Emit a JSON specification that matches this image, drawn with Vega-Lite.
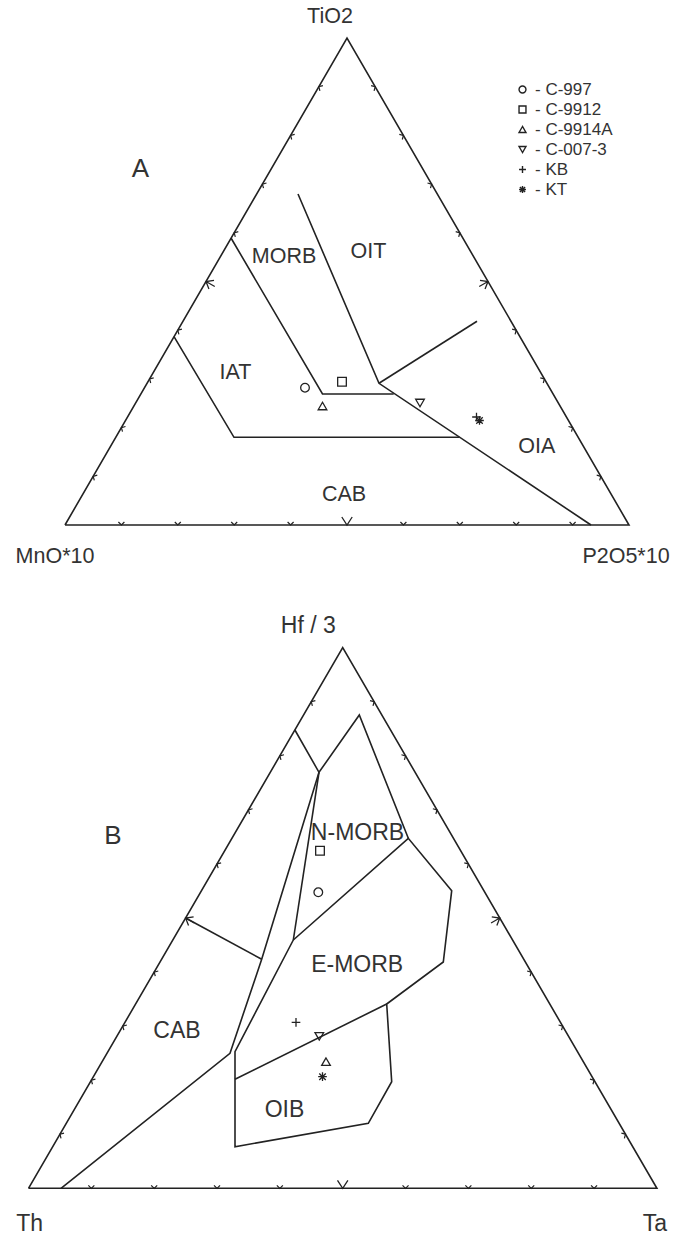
{
  "$schema": "https://vega.github.io/schema/vega-lite/v6.json",
  "width": 684,
  "height": 1237,
  "autosize": {"type": "fit", "contains": "padding"},
  "padding": 0,
  "background": "white",
  "config": {"view": {"stroke": null}, "text": {"font": "Liberation Sans"}},
  "datasets": {
    "lines": [
      {"id": "A-outline", "ord": 1, "x": 65, "y": 525},
      {"id": "A-outline", "ord": 2, "x": 347, "y": 38},
      {"id": "A-outline", "ord": 3, "x": 629, "y": 525},
      {"id": "A-outline", "ord": 4, "x": 65, "y": 525},
      {"id": "A-morb", "ord": 1, "x": 231, "y": 238},
      {"id": "A-morb", "ord": 2, "x": 322.5, "y": 394},
      {"id": "A-morb", "ord": 3, "x": 393.7, "y": 394},
      {"id": "A-oit", "ord": 1, "x": 298, "y": 194},
      {"id": "A-oit", "ord": 2, "x": 379, "y": 383.3},
      {"id": "A-oit", "ord": 3, "x": 591, "y": 525},
      {"id": "A-oia", "ord": 1, "x": 379, "y": 383.3},
      {"id": "A-oia", "ord": 2, "x": 477, "y": 321.3},
      {"id": "A-iat", "ord": 1, "x": 174, "y": 336.7},
      {"id": "A-iat", "ord": 2, "x": 234, "y": 437.3},
      {"id": "A-iat", "ord": 3, "x": 459.5, "y": 437.3},
      {"id": "B-outline", "ord": 1, "x": 28.5, "y": 1188.3},
      {"id": "B-outline", "ord": 2, "x": 342.7, "y": 647.7},
      {"id": "B-outline", "ord": 3, "x": 656.9, "y": 1188.3},
      {"id": "B-outline", "ord": 4, "x": 28.5, "y": 1188.3},
      {"id": "B-n1", "ord": 1, "x": 294.9, "y": 730},
      {"id": "B-n1", "ord": 2, "x": 319, "y": 772.3},
      {"id": "B-n1", "ord": 3, "x": 359.3, "y": 715},
      {"id": "B-n1", "ord": 4, "x": 408.3, "y": 838.3},
      {"id": "B-n2", "ord": 1, "x": 319, "y": 772.3},
      {"id": "B-n2", "ord": 2, "x": 293.3, "y": 940},
      {"id": "B-poly", "ord": 1, "x": 293.3, "y": 940},
      {"id": "B-poly", "ord": 2, "x": 408.3, "y": 838.3},
      {"id": "B-poly", "ord": 3, "x": 451.7, "y": 890.7},
      {"id": "B-poly", "ord": 4, "x": 443.3, "y": 962},
      {"id": "B-poly", "ord": 5, "x": 386.7, "y": 1004},
      {"id": "B-poly", "ord": 6, "x": 391.7, "y": 1081.7},
      {"id": "B-poly", "ord": 7, "x": 368.3, "y": 1123.3},
      {"id": "B-poly", "ord": 8, "x": 235, "y": 1146.7},
      {"id": "B-poly", "ord": 9, "x": 235, "y": 1051.7},
      {"id": "B-poly", "ord": 10, "x": 293.3, "y": 940},
      {"id": "B-eo", "ord": 1, "x": 235, "y": 1079.3},
      {"id": "B-eo", "ord": 2, "x": 386.7, "y": 1004},
      {"id": "B-cab", "ord": 1, "x": 319, "y": 772.3},
      {"id": "B-cab", "ord": 2, "x": 261.7, "y": 959.3},
      {"id": "B-cab", "ord": 3, "x": 230, "y": 1053.3},
      {"id": "B-cab", "ord": 4, "x": 61, "y": 1188.3},
      {"id": "B-arrow", "ord": 1, "x": 185.6, "y": 918},
      {"id": "B-arrow", "ord": 2, "x": 261.7, "y": 959.3}
    ],
    "ticks": [
      {"edge": "L", "kind": "minor", "x": 318.8, "y": 86.7},
      {"edge": "L", "kind": "minor", "x": 290.6, "y": 135.4},
      {"edge": "L", "kind": "minor", "x": 262.4, "y": 184.1},
      {"edge": "L", "kind": "minor", "x": 234.2, "y": 232.8},
      {"edge": "L", "kind": "major", "x": 206.0, "y": 281.5},
      {"edge": "L", "kind": "minor", "x": 177.8, "y": 330.2},
      {"edge": "L", "kind": "minor", "x": 149.6, "y": 378.9},
      {"edge": "L", "kind": "minor", "x": 121.4, "y": 427.6},
      {"edge": "L", "kind": "minor", "x": 93.2, "y": 476.3},
      {"edge": "R", "kind": "minor", "x": 375.2, "y": 86.7},
      {"edge": "R", "kind": "minor", "x": 403.4, "y": 135.4},
      {"edge": "R", "kind": "minor", "x": 431.6, "y": 184.1},
      {"edge": "R", "kind": "minor", "x": 459.8, "y": 232.8},
      {"edge": "R", "kind": "major", "x": 488.0, "y": 281.5},
      {"edge": "R", "kind": "minor", "x": 516.2, "y": 330.2},
      {"edge": "R", "kind": "minor", "x": 544.4, "y": 378.9},
      {"edge": "R", "kind": "minor", "x": 572.6, "y": 427.6},
      {"edge": "R", "kind": "minor", "x": 600.8, "y": 476.3},
      {"edge": "Bt", "kind": "minor", "x": 121.4, "y": 525},
      {"edge": "Bt", "kind": "minor", "x": 177.8, "y": 525},
      {"edge": "Bt", "kind": "minor", "x": 234.2, "y": 525},
      {"edge": "Bt", "kind": "minor", "x": 290.6, "y": 525},
      {"edge": "Bt", "kind": "major", "x": 347.0, "y": 525},
      {"edge": "Bt", "kind": "minor", "x": 403.4, "y": 525},
      {"edge": "Bt", "kind": "minor", "x": 459.8, "y": 525},
      {"edge": "Bt", "kind": "minor", "x": 516.2, "y": 525},
      {"edge": "Bt", "kind": "minor", "x": 572.6, "y": 525},
      {"edge": "L", "kind": "minor", "x": 311.28, "y": 701.76},
      {"edge": "L", "kind": "minor", "x": 279.86, "y": 755.82},
      {"edge": "L", "kind": "minor", "x": 248.44, "y": 809.88},
      {"edge": "L", "kind": "minor", "x": 217.02, "y": 863.94},
      {"edge": "L", "kind": "major", "x": 185.6, "y": 918.0},
      {"edge": "L", "kind": "minor", "x": 154.18, "y": 972.06},
      {"edge": "L", "kind": "minor", "x": 122.76, "y": 1026.12},
      {"edge": "L", "kind": "minor", "x": 91.34, "y": 1080.18},
      {"edge": "L", "kind": "minor", "x": 59.92, "y": 1134.24},
      {"edge": "R", "kind": "minor", "x": 374.12, "y": 701.76},
      {"edge": "R", "kind": "minor", "x": 405.54, "y": 755.82},
      {"edge": "R", "kind": "minor", "x": 436.96, "y": 809.88},
      {"edge": "R", "kind": "minor", "x": 468.38, "y": 863.94},
      {"edge": "R", "kind": "major", "x": 499.8, "y": 918.0},
      {"edge": "R", "kind": "minor", "x": 531.22, "y": 972.06},
      {"edge": "R", "kind": "minor", "x": 562.64, "y": 1026.12},
      {"edge": "R", "kind": "minor", "x": 594.06, "y": 1080.18},
      {"edge": "R", "kind": "minor", "x": 625.48, "y": 1134.24},
      {"edge": "Bt", "kind": "minor", "x": 91.34, "y": 1188.3},
      {"edge": "Bt", "kind": "minor", "x": 154.18, "y": 1188.3},
      {"edge": "Bt", "kind": "minor", "x": 217.02, "y": 1188.3},
      {"edge": "Bt", "kind": "minor", "x": 279.86, "y": 1188.3},
      {"edge": "Bt", "kind": "major", "x": 342.7, "y": 1188.3},
      {"edge": "Bt", "kind": "minor", "x": 405.54, "y": 1188.3},
      {"edge": "Bt", "kind": "minor", "x": 468.38, "y": 1188.3},
      {"edge": "Bt", "kind": "minor", "x": 531.22, "y": 1188.3},
      {"edge": "Bt", "kind": "minor", "x": 594.06, "y": 1188.3}
    ],
    "samples": [
      {"diagram": "A", "sample": "C-997", "x": 305, "y": 387.7},
      {"diagram": "A", "sample": "C-9912", "x": 342, "y": 381.7},
      {"diagram": "A", "sample": "C-9914A", "x": 322.5, "y": 406},
      {"diagram": "A", "sample": "C-007-3", "x": 420, "y": 403},
      {"diagram": "A", "sample": "KB", "x": 476.5, "y": 417},
      {"diagram": "A", "sample": "KT", "x": 479.5, "y": 420.5},
      {"diagram": "B", "sample": "C-9912", "x": 320, "y": 850.7},
      {"diagram": "B", "sample": "C-997", "x": 318.3, "y": 892.3},
      {"diagram": "B", "sample": "KB", "x": 296, "y": 1022.3},
      {"diagram": "B", "sample": "C-007-3", "x": 319.3, "y": 1036.3},
      {"diagram": "B", "sample": "C-9914A", "x": 326, "y": 1061.7},
      {"diagram": "B", "sample": "KT", "x": 322.5, "y": 1076.7}
    ],
    "labels": [
      {"grp": "A", "text": "TiO2", "x": 330, "y": 17},
      {"grp": "A", "text": "MnO*10", "x": 55, "y": 557},
      {"grp": "A", "text": "P2O5*10", "x": 626, "y": 557},
      {"grp": "A", "text": "MORB", "x": 284, "y": 257},
      {"grp": "A", "text": "OIT", "x": 368.5, "y": 252},
      {"grp": "A", "text": "IAT", "x": 235.5, "y": 373},
      {"grp": "A", "text": "OIA", "x": 536.7, "y": 446.7},
      {"grp": "A", "text": "CAB", "x": 344, "y": 495},
      {"grp": "B", "text": "Hf / 3", "x": 308.3, "y": 626},
      {"grp": "B", "text": "Th", "x": 29.7, "y": 1224.3},
      {"grp": "B", "text": "Ta", "x": 655, "y": 1224.3},
      {"grp": "B", "text": "N-MORB", "x": 357.5, "y": 833.3},
      {"grp": "B", "text": "E-MORB", "x": 357.2, "y": 965},
      {"grp": "B", "text": "CAB", "x": 177, "y": 1031},
      {"grp": "B", "text": "OIB", "x": 284.5, "y": 1110},
      {"grp": "P", "text": "A", "x": 140.4, "y": 169},
      {"grp": "P", "text": "B", "x": 113, "y": 836}
    ]
  },
  "encoding": {
    "x": {"field": "x", "type": "quantitative", "scale": {"domain": [0, 684], "nice": false, "zero": false}, "axis": null},
    "y": {"field": "y", "type": "quantitative", "scale": {"domain": [0, 1237], "nice": false, "zero": false, "reverse": true}, "axis": null}
  },
  "layer": [
    {
      "data": {"name": "lines"},
      "mark": {"type": "line", "color": "#222222", "strokeWidth": 1.6, "strokeJoin": "miter"},
      "encoding": {"detail": {"field": "id"}, "order": {"field": "ord", "type": "quantitative"}}
    },
    {
      "data": {"name": "ticks"},
      "transform": [{"filter": "datum.edge == 'L' && datum.kind == 'minor'"}],
      "mark": {"type": "point", "shape": "M-1,1L0,0L1,1", "size": 36, "angle": -60, "filled": false, "stroke": "#222222", "strokeWidth": 1.2, "opacity": 1}
    },
    {
      "data": {"name": "ticks"},
      "transform": [{"filter": "datum.edge == 'R' && datum.kind == 'minor'"}],
      "mark": {"type": "point", "shape": "M-1,1L0,0L1,1", "size": 36, "angle": 60, "filled": false, "stroke": "#222222", "strokeWidth": 1.2, "opacity": 1}
    },
    {
      "data": {"name": "ticks"},
      "transform": [{"filter": "datum.edge == 'Bt' && datum.kind == 'minor'"}],
      "mark": {"type": "point", "shape": "M-1,1L0,0L1,1", "size": 36, "angle": 180, "filled": false, "stroke": "#222222", "strokeWidth": 1.2, "opacity": 1}
    },
    {
      "data": {"name": "ticks"},
      "transform": [{"filter": "datum.edge == 'L' && datum.kind == 'major'"}],
      "mark": {"type": "point", "shape": "M-0.8,1L0,0L0.8,1M0,0L0,1.6", "size": 160, "angle": -60, "filled": false, "stroke": "#222222", "strokeWidth": 1.3, "opacity": 1}
    },
    {
      "data": {"name": "ticks"},
      "transform": [{"filter": "datum.edge == 'R' && datum.kind == 'major'"}],
      "mark": {"type": "point", "shape": "M-0.8,1L0,0L0.8,1M0,0L0,1.6", "size": 160, "angle": 60, "filled": false, "stroke": "#222222", "strokeWidth": 1.3, "opacity": 1}
    },
    {
      "data": {"name": "ticks"},
      "transform": [{"filter": "datum.edge == 'Bt' && datum.kind == 'major'"}],
      "mark": {"type": "point", "shape": "M-0.65,1L0,0L0.65,1", "size": 256, "angle": 180, "filled": false, "stroke": "#222222", "strokeWidth": 1.3, "opacity": 1}
    },
    {
      "data": {"name": "samples"},
      "mark": {"type": "point", "filled": false, "size": 75, "strokeWidth": 1.3, "color": "#222222", "opacity": 1},
      "encoding": {
        "shape": {
          "field": "sample",
          "type": "nominal",
          "scale": {
            "domain": ["C-997", "C-9912", "C-9914A", "C-007-3", "KB", "KT"],
            "range": ["circle", "square", "triangle-up", "triangle-down", "M-1,0L1,0M0,-1L0,1", "M-1,0L1,0M0,-1L0,1M-0.75,-0.75L0.75,0.75M-0.75,0.75L0.75,-0.75"]
          },
          "legend": {
            "title": null,
            "orient": "none",
            "legendX": 514,
            "legendY": 81,
            "padding": 0,
            "rowPadding": 2,
            "symbolSize": 48,
            "symbolStrokeColor": "#222222",
            "symbolStrokeWidth": 1.4,
            "symbolFillColor": "transparent",
            "labelFont": "Liberation Sans",
            "labelFontSize": 17,
            "labelColor": "#333333",
            "labelOffset": 4,
            "labelExpr": "'- ' + datum.label"
          }
        }
      }
    },
    {
      "data": {"name": "labels"},
      "transform": [{"filter": "datum.grp == 'A'"}],
      "mark": {"type": "text", "fontSize": 21.5, "color": "#333333", "align": "center", "baseline": "middle"},
      "encoding": {"text": {"field": "text"}}
    },
    {
      "data": {"name": "labels"},
      "transform": [{"filter": "datum.grp == 'B'"}],
      "mark": {"type": "text", "fontSize": 23, "color": "#333333", "align": "center", "baseline": "middle"},
      "encoding": {"text": {"field": "text"}}
    },
    {
      "data": {"name": "labels"},
      "transform": [{"filter": "datum.grp == 'P'"}],
      "mark": {"type": "text", "fontSize": 26, "color": "#333333", "align": "center", "baseline": "middle"},
      "encoding": {"text": {"field": "text"}}
    }
  ]
}
